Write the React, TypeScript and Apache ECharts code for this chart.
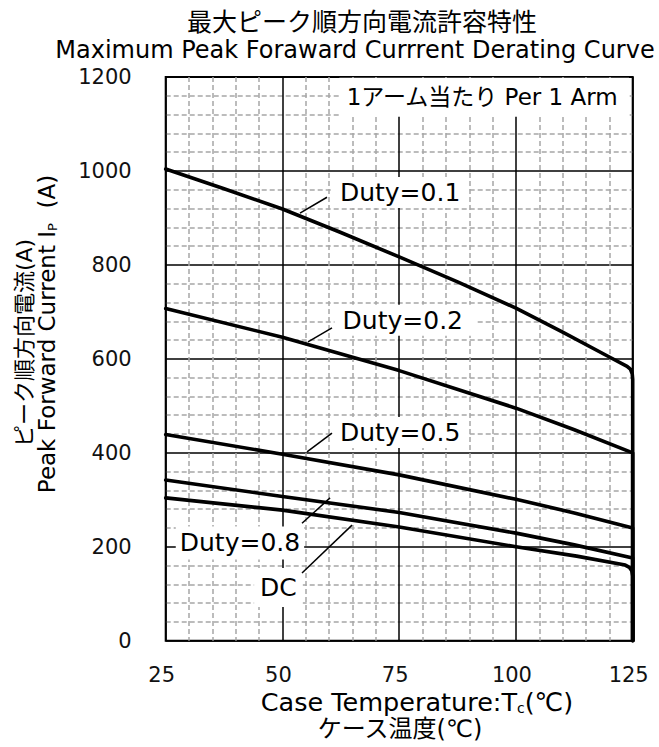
import React, { useEffect, useRef } from "react";
import * as echarts from "echarts";

// Tick settings
const xTicks = [25, 50, 75, 100, 125];
const yTicks = [0, 200, 400, 600, 800, 1000, 1200];

// Curves: [case temperature (°C), peak forward current (A)]
const duty01 = [[25, 1004], [37.5, 962], [50, 919], [62.5, 869], [75, 817], [87.5, 764], [100, 708], [110, 657], [120, 604], [123.8, 584], [124.5, 578], [124.9, 568], [125, 556], [125, 0]];
const duty02 = [[25, 707], [50, 646], [75, 575], [100, 495], [112.5, 449], [125, 400], [125, 0]];
const duty05 = [[25, 439], [50, 397], [75, 353], [100, 301], [112.5, 272], [125, 240], [125, 0]];
const duty08 = [[25, 342], [50, 307], [75, 273], [100, 229], [112.5, 204], [125, 176], [125, 0]];
const dcCurve = [[25, 304], [50, 278], [75, 242], [100, 200], [113, 180], [123.4, 161], [124.3, 156], [124.8, 149], [125, 138], [125, 0]];

// Annotation labels
const labelNames = ["1アーム当たり Per 1 Arm", "Duty=0.1", "Duty=0.2", "Duty=0.5", "Duty=0.8", "DC"];
const labelX = [93.2, 75.2, 76.2, 75.2, 40.9, 49.15];
const labelY = [1157, 954, 682, 443, 208, 113];

// Leader lines: [x1, y1, x2, y2]
const leaders = [
  [53.76, 910, 59.54, 944],
  [55.47, 636, 60.61, 666],
  [55.26, 402, 60.61, 442],
  [54.19, 250, 60.19, 304],
  [54.19, 144, 64.9, 246],
];

const FONT = "'DejaVu Sans', 'Noto Sans CJK JP', sans-serif";

export default function App() {
  const ref = useRef<HTMLDivElement>(null);
  useEffect(() => {
    if (!ref.current) return;
    const chart = echarts.init(ref.current, undefined, { renderer: "svg" });

    const curveSeries = [duty01, duty02, duty05, duty08, dcCurve].map((d) => ({
      type: "line",
      data: d,
      showSymbol: false,
      symbol: "none",
      z: 5,
      lineStyle: { color: "#000", width: 3.6, join: "round", cap: "round" },
      silent: true,
    }));

    const paddings = [
      [8, 11, 8, 7],
      [3, 8, 3, 8],
      [3, 12, 3, 8],
      [3, 8, 3, 8],
      [4, 4, 4, 4],
      [7, 6, 7, 6],
    ];
    const sizes = [23, 25, 25, 25, 25, 25];

    const option: any = {
      animation: false,
      backgroundColor: "#fff",
      textStyle: { fontFamily: FONT },
      grid: {
        left: 165.7,
        right: 26.3,
        top: 77,
        bottom: 106.3,
        show: true,
        borderColor: "#000",
        borderWidth: 2,
        backgroundColor: "transparent",
        containLabel: false,
      },
      xAxis: {
        type: "value",
        min: xTicks[0],
        max: xTicks[xTicks.length - 1],
        interval: 25,
        axisLine: { show: false },
        axisTick: { show: false },
        axisLabel: { fontSize: 21, color: "#111", margin: 24, fontFamily: FONT, padding: [0, 8, 0, 0], formatter: (v: number) => String(v) },
        splitLine: { show: true, lineStyle: { color: "#000", width: 1.5 } },
        minorTick: { show: false, splitNumber: 5 },
        minorSplitLine: { show: true, lineStyle: { color: "#a6a6a6", width: 1.5, type: [5, 3] } },
      },
      yAxis: {
        type: "value",
        min: yTicks[0],
        max: yTicks[yTicks.length - 1],
        interval: 200,
        axisLine: { show: false },
        axisTick: { show: false },
        axisLabel: { fontSize: 21, color: "#111", margin: 34, fontFamily: FONT, formatter: (v: number) => String(v) },
        splitLine: { show: true, lineStyle: { color: "#000", width: 1.5 } },
        minorTick: { show: false, splitNumber: 5 },
        minorSplitLine: { show: true, lineStyle: { color: "#a6a6a6", width: 1.5, type: [5, 3] } },
      },
      series: [
        ...curveSeries,
        {
          type: "line",
          data: [],
          silent: true,
          markLine: {
            silent: true,
            symbol: ["none", "none"],
            label: { show: false },
            lineStyle: { color: "#000", width: 1.5, type: "solid" },
            data: leaders.map((l) => [{ coord: [l[0], l[1]] }, { coord: [l[2], l[3]] }]),
          },
        },
        {
          type: "custom",
          silent: true,
          z: 4,
          data: labelNames.map((n, i) => [labelX[i], labelY[i], i]),
          renderItem: (params: any, api: any) => {
            const i = api.value(2);
            const p = api.coord([api.value(0), api.value(1)]);
            return {
              type: "text",
              x: p[0],
              y: p[1],
              style: {
                text: labelNames[i],
                fontSize: sizes[i],
                fontFamily: FONT,
                fill: "#000",
                backgroundColor: "#fff",
                padding: paddings[i],
                align: "center",
                verticalAlign: "middle",
              },
            };
          },
        },
      ],
      graphic: [
        {
          type: "text",
          x: 362,
          y: 22,
          style: { text: "最大ピーク順方向電流許容特性", fontSize: 25, fontFamily: FONT, fill: "#000", align: "center", verticalAlign: "middle" },
        },
        {
          type: "text",
          x: 355,
          y: 50,
          style: { text: "Maximum Peak Foraward Currrent Derating Curve", fontSize: 24, fontFamily: FONT, fill: "#000", align: "center", verticalAlign: "middle" },
        },
        {
          type: "text",
          x: 417,
          y: 702,
          style: {
            text: "Case Temperature:T{sub|c}(℃)",
            fontSize: 25.5,
            fontFamily: FONT,
            fill: "#000",
            align: "center",
            verticalAlign: "middle",
            rich: { sub: { fontSize: 14, fontFamily: FONT, fill: "#000", verticalAlign: "bottom", padding: [8, 0, 0, 0] } },
          },
        },
        {
          type: "text",
          x: 400,
          y: 729,
          style: { text: "ケース温度(℃)", fontSize: 24, fontFamily: FONT, fill: "#000", align: "center", verticalAlign: "middle" },
        },
        {
          type: "text",
          x: 24,
          y: 343,
          rotation: Math.PI / 2,
          style: { text: "ピーク順方向電流(A)", fontSize: 22, fontFamily: FONT, fill: "#000", align: "center", verticalAlign: "middle" },
        },
        {
          type: "text",
          x: 47,
          y: 334,
          rotation: Math.PI / 2,
          style: {
            text: "Peak Forward Current I{sub|P}  (A)",
            fontSize: 23,
            fontFamily: FONT,
            fill: "#000",
            align: "center",
            verticalAlign: "middle",
            rich: { sub: { fontSize: 13, fontFamily: FONT, fill: "#000", verticalAlign: "bottom", padding: [8, 0, 0, 0] } },
          },
        },
      ],
    };
    chart.setOption(option);
    return () => chart.dispose();
  }, []);

  return <div ref={ref} style={{ position: "fixed", left: 0, top: 0, width: 659, height: 747 }} />;
}
